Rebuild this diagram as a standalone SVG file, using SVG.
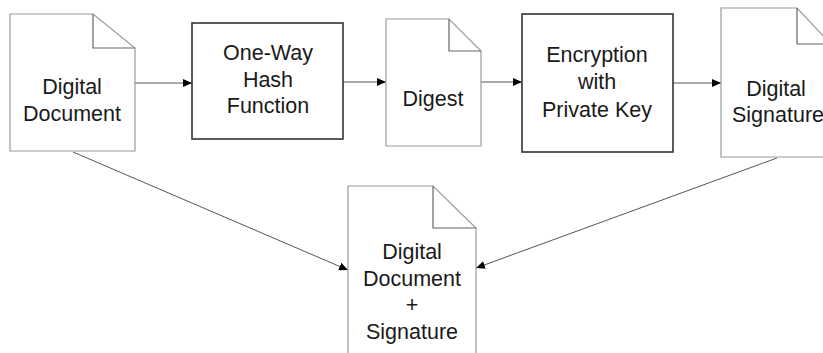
<svg xmlns="http://www.w3.org/2000/svg" width="823" height="353" viewBox="0 0 823 353">
<style>
.doc{fill:#fff;stroke:#9a9a9a;stroke-width:1.2}
.fold{fill:none;stroke:#666;stroke-width:1.2}
.box{fill:#fff;stroke:#333;stroke-width:1.6}
.t{font-family:"Liberation Sans",Arial,sans-serif;font-size:21.5px;fill:#1a1a1a;text-anchor:middle}
.c{fill:none;stroke:#555;stroke-width:1;marker-end:url(#ah)}
</style>
<defs>
<marker id="ah" markerWidth="10" markerHeight="8" refX="9" refY="4" orient="auto" markerUnits="userSpaceOnUse">
<path d="M0,0 L9,4 L0,8 Z" fill="#000"/>
</marker>
</defs>
<rect width="823" height="353" fill="#fff"/>
<g id="connectors">
<line class="c" x1="135" y1="83" x2="192" y2="83"/>
<line class="c" x1="343" y1="82" x2="386" y2="82"/>
<line class="c" x1="481" y1="82" x2="522" y2="82"/>
<line class="c" x1="673" y1="83" x2="721" y2="83"/>
<line class="c" x1="73" y1="152" x2="348" y2="270"/>
<line class="c" x1="777" y1="158" x2="476" y2="268"/>
</g>
<g id="digital-document">
<path class="doc" d="M10,14 H93 L135,48 V151 H10 Z"/>
<path class="fold" d="M93,14 V48 H135"/>
<text class="t" x="72" y="94">Digital</text>
<text class="t" x="72" y="120.5">Document</text>
</g>
<g id="hash-function">
<rect class="box" x="192" y="23" width="151" height="116"/>
<text class="t" x="268" y="60">One-Way</text>
<text class="t" x="268" y="86.5">Hash</text>
<text class="t" x="268" y="113">Function</text>
</g>
<g id="digest">
<path class="doc" d="M386,19 H449 L481,51 V146 H386 Z"/>
<path class="fold" d="M449,19 V51 H481"/>
<text class="t" x="433" y="105.5">Digest</text>
</g>
<g id="encryption">
<rect class="box" x="522" y="14" width="151" height="138"/>
<text class="t" x="597" y="62">Encryption</text>
<text class="t" x="597" y="89">with</text>
<text class="t" x="597" y="117">Private Key</text>
</g>
<g id="digital-signature">
<path class="doc" d="M721,8 H797 L831,44 V157 H721 Z"/>
<path class="fold" d="M797,8 V44 H831"/>
<text class="t" x="776" y="96">Digital</text>
<text class="t" x="778" y="122">Signature</text>
</g>
<g id="document-plus-signature">
<path class="doc" d="M348,186 H433 L476,228 V360 H348 Z"/>
<path class="fold" d="M433,186 V228 H476"/>
<text class="t" x="412" y="259">Digital</text>
<text class="t" x="412" y="285.5">Document</text>
<text class="t" x="412" y="312">+</text>
<text class="t" x="412" y="339">Signature</text>
</g>
</svg>
